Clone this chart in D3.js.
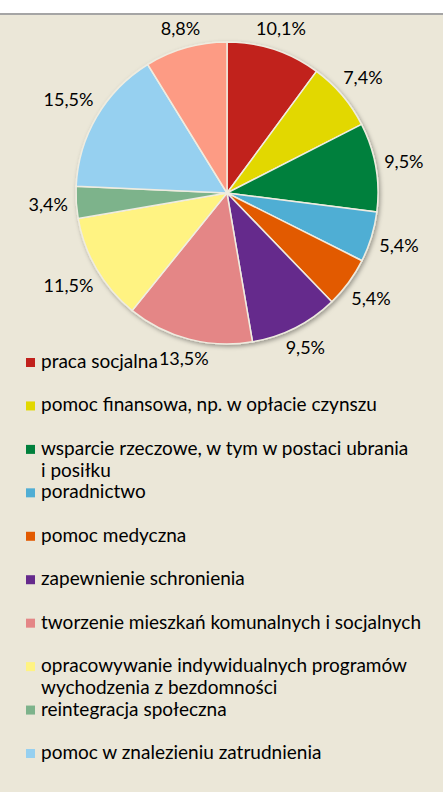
<!DOCTYPE html>
<html>
<head>
<meta charset="utf-8">
<script src="https://cdn.jsdelivr.net/npm/d3@7"></script>
<style>
  html, body { margin: 0; padding: 0; background: #fff; }
  svg { display: block; }
  text { font-family: Lato, "Open Sans", sans-serif; fill: #000; }
</style>
</head>
<body>
<div id="chart"></div>
<script>
// slices in drawing order, clockwise from 12 o'clock
var categories = [
	"praca socjalna",
	"pomoc finansowa, np. w opłacie czynszu",
	"wsparcie rzeczowe, w tym w postaci ubrania|i posiłku",
	"poradnictwo",
	"pomoc medyczna",
	"zapewnienie schronienia",
	"tworzenie mieszkań komunalnych i socjalnych",
	"opracowywanie indywidualnych programów|wychodzenia z bezdomności",
	"reintegracja społeczna",
	"pomoc w znalezieniu zatrudnienia",
	"inne"
];
var values = [10.1, 7.4, 9.5, 5.4, 5.4, 9.5, 13.5, 11.5, 3.4, 15.5, 8.8];
var valueLabels = ["10,1%", "7,4%", "9,5%", "5,4%", "5,4%", "9,5%", "13,5%", "11,5%", "3,4%", "15,5%", "8,8%"];
var colors = ["#c1211c", "#e2d800", "#00803c", "#50aed4", "#e25a00", "#652a8c",
	"#e48686", "#fff382", "#7db38b", "#96d0f0", "#fd9b84"];
var legendCount = 10; // the last slice has no legend entry in the original

var width = 443, height = 792;
var cx = 227, cy = 193, radius = 151;

var svg = d3.select("#chart").append("svg")
	.attr("width", width)
	.attr("height", height);

// background panel + top rule
svg.append("rect").attr("x", 0).attr("y", 14).attr("width", width).attr("height", height - 14)
	.attr("fill", "#ebe7d8");
svg.append("line").attr("x1", 0).attr("x2", width).attr("y1", 14).attr("y2", 14)
	.attr("stroke", "#a5a5a5").attr("stroke-width", 2);

var defs = svg.append("defs");
var shadow = defs.append("filter").attr("id", "shadow")
	.attr("x", "-10%").attr("y", "-10%").attr("width", "130%").attr("height", "130%");
shadow.append("feDropShadow")
	.attr("dx", 1.5).attr("dy", 2).attr("stdDeviation", 2)
	.attr("flood-color", "#000").attr("flood-opacity", 0.35);

var pie = d3.pie().sort(null).value(function (d) { return d; });
var arcs = pie(values);
var arc = d3.arc().innerRadius(0).outerRadius(radius);

var g = svg.append("g").attr("transform", "translate(" + cx + "," + cy + ")");

g.append("g").attr("filter", "url(#shadow)")
	.selectAll("path")
	.data(arcs)
	.enter().append("path")
	.attr("d", arc)
	.attr("fill", function (d, i) { return colors[i]; })
	.attr("stroke", "#efece0")
	.attr("stroke-width", 1.5);

// outside-end labels: push the label box just past the rim
var labelFont = 18, gap = 8;
g.selectAll("text.val")
	.data(arcs)
	.enter().append("text")
	.attr("class", "val")
	.attr("text-anchor", "middle")
	.attr("font-size", labelFont)
	.text(function (d, i) { return valueLabels[i]; })
	.each(function (d) {
		var a = (d.startAngle + d.endAngle) / 2;
		var s = Math.sin(a), c = -Math.cos(a);
		var w = this.getComputedTextLength() / 2, h = labelFont * 0.36;
		var dist = radius + gap + Math.abs(s) * w + Math.abs(c) * h;
		d3.select(this)
			.attr("x", s * dist)
			.attr("y", c * dist + labelFont * 0.35);
	});

// legend
var legendY = d3.scaleLinear().domain([0, legendCount - 1]).range([368, 759]);
var leg = svg.append("g").selectAll("g")
	.data(categories.slice(0, legendCount))
	.enter().append("g")
	.attr("transform", function (d, i) { return "translate(0," + legendY(i) + ")"; });

leg.append("rect")
	.attr("x", 26).attr("y", -10)
	.attr("width", 9).attr("height", 9)
	.attr("fill", function (d, i) { return colors[i]; });

leg.append("text")
	.attr("x", 41)
	.attr("font-size", 19)
	.each(function (d) {
		var t = d3.select(this);
		d.split("|").forEach(function (line, k) {
			t.append("tspan").attr("x", 41).attr("dy", k === 0 ? 0 : 22).text(line);
		});
	});
</script>
</body>
</html>
